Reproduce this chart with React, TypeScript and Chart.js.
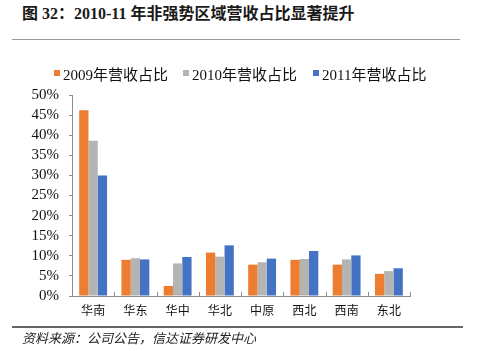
import React, { useEffect, useRef } from "react";
import { Chart, registerables } from "chart.js";

Chart.register(...registerables);

const categories = ["华南", "华东", "华中", "华北", "中原", "西北", "西南", "东北"];
const series2009 = [46.2, 9.0, 2.5, 10.8, 7.8, 9.0, 7.8, 5.5];
const series2010 = [38.6, 9.4, 8.1, 9.8, 8.4, 9.2, 9.1, 6.2];
const series2011 = [30.0, 9.1, 9.7, 12.6, 9.3, 11.2, 10.1, 6.9];
const seriesNames = ["2009年营收占比", "2010年营收占比", "2011年营收占比"];
const seriesColors = ["#ED7D31", "#B4B4B4", "#4472C4"];

const titleText = "图 32：2010-11 年非强势区域营收占比显著提升";
const sourceText = "资料来源：公司公告，信达证券研发中心";

const SERIF = "'Liberation Serif', 'Times New Roman', 'Noto Sans CJK SC', serif";

const innerTicks = {
  id: "innerTicks",
  afterDraw(chart: any) {
    const x = chart.scales.x;
    const ctx = chart.ctx;
    const n = chart.data.labels.length;
    const bottom = chart.chartArea.bottom;
    ctx.save();
    ctx.strokeStyle = "#8c8c8c";
    ctx.lineWidth = 1;
    const w = (x.right - x.left) / n;
    for (let i = 1; i <= n; i++) {
      const px = Math.round(x.left + w * i) + 0.5;
      ctx.beginPath();
      ctx.moveTo(px, bottom);
      ctx.lineTo(px, bottom - 4);
      ctx.stroke();
    }
    ctx.restore();
  },
};

const legendLeft = [54, 183, 313];

export default function App() {
  const ref = useRef<HTMLCanvasElement>(null);
  useEffect(() => {
    const chart = new Chart(ref.current!, {
      type: "bar",
      data: {
        labels: categories,
        datasets: [series2009, series2010, series2011].map((d, i) => ({
          label: seriesNames[i],
          data: d,
          backgroundColor: seriesColors[i],
          borderWidth: 0,
          barPercentage: 1,
          categoryPercentage: 0.66,
        })),
      },
      options: {
        animation: false,
        responsive: false,
        maintainAspectRatio: false,
        layout: { padding: { left: 0, right: 69, top: 46, bottom: 0 } },
        plugins: {
          legend: { display: false },
          tooltip: { enabled: false },
        },
        scales: {
          x: {
            afterFit(scale: any) {
              scale.height = 32;
            },
            grid: { display: false, drawTicks: false },
            border: { color: "#8c8c8c", width: 1 },
            ticks: {
              color: "#111",
              padding: 7,
              font: { family: "'Noto Sans CJK SC', sans-serif", size: 12 },
            },
          },
          y: {
            min: 0,
            max: 50,
            afterFit(scale: any) {
              scale.width = 72;
            },
            grid: {
              display: true,
              drawOnChartArea: false,
              drawTicks: true,
              tickLength: 3,
              color: "#8c8c8c",
            },
            border: { color: "#8c8c8c", width: 1 },
            ticks: {
              stepSize: 5,
              autoSkip: false,
              color: "#111",
              padding: 10,
              font: { family: SERIF, size: 15 },
              callback: (v: any) => v + "%",
            },
          },
        },
      },
      plugins: [innerTicks],
    });
    return () => chart.destroy();
  }, []);

  return (
    <div style={{ position: "fixed", left: 0, top: 0, width: 479, height: 351, background: "#fff" }}>
      <div
        style={{
          position: "absolute",
          left: 22,
          top: 4,
          fontFamily: SERIF,
          fontWeight: "bold",
          fontSize: 16,
          color: "#1a1a1a",
          whiteSpace: "nowrap",
          lineHeight: "20px",
        }}
      >
        {titleText}
      </div>
      <div style={{ position: "absolute", left: 12, top: 39, width: 448, height: 1, background: "#9a9a9a" }} />
      <canvas
        ref={ref}
        width={479}
        height={279}
        style={{ position: "absolute", left: 0, top: 49, width: 479, height: 279 }}
      />
      {seriesNames.map((name, i) => (
        <div
          key={name}
          style={{
            position: "absolute",
            left: legendLeft[i],
            top: 64,
            height: 18,
            display: "flex",
            alignItems: "center",
            whiteSpace: "nowrap",
            fontFamily: SERIF,
            fontSize: 15,
            color: "#111",
          }}
        >
          <span style={{ display: "inline-block", width: 6, height: 6, background: seriesColors[i], marginRight: 3 }} />
          <span>{name}</span>
        </div>
      ))}
      <div style={{ position: "absolute", left: 12, top: 326, width: 451, height: 2, background: "#666" }} />
      <div
        style={{
          position: "absolute",
          left: 22,
          top: 330,
          fontFamily: "'Noto Sans CJK SC', sans-serif",
          fontStyle: "italic",
          fontSize: 13,
          color: "#222",
          whiteSpace: "nowrap",
          lineHeight: "16px",
        }}
      >
        {sourceText}
      </div>
    </div>
  );
}
